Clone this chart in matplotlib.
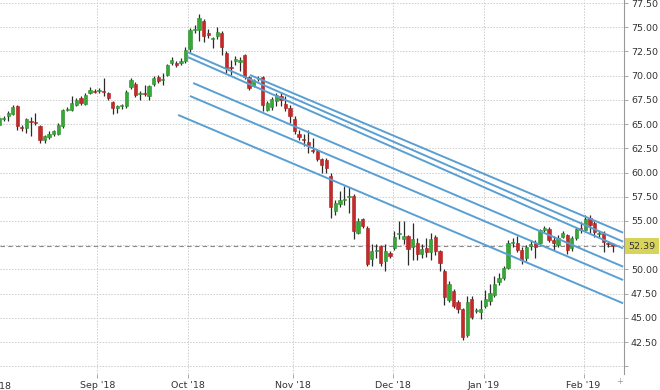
import matplotlib
matplotlib.use('Agg')
import matplotlib.pyplot as plt
import numpy as np

# daily candles (Aug '18 - Feb '19)
opens = [64.95, 65.5, 65.8, 66.0, 66.84, 64.7, 64.6, 65.35, 65.25, 64.8,
         63.35, 63.7, 63.95, 64.0, 64.8, 66.45, 66.5, 67.0, 67.7, 67.1,
         68.2, 68.45, 68.4, 68.45, 68.2, 67.3, 66.7, 66.85, 66.85, 68.85,
         69.1, 68.15, 68.2, 67.9, 69.1, 69.9, 69.5, 70.1, 71.3, 71.3,
         71.3, 71.5, 72.7, 74.7, 74.7, 75.6, 74.45, 73.75, 74.05, 74.4,
         72.35, 70.9, 71.5, 71.4, 72.15, 69.9, 68.9, 69.7, 69.85, 66.5,
         66.8, 67.35, 67.85, 67.1, 66.7, 65.5, 63.95, 63.5, 63.1, 62.35,
         62.2, 61.35, 61.3, 59.65, 56.0, 56.7, 57.2, 57.45, 57.6, 53.8,
         55.2, 54.3, 51.05, 51.85, 52.4, 50.9, 51.65, 52.25, 53.65, 53.1,
         53.45, 52.26, 52.75, 51.6, 52.25, 51.75, 53.3, 51.9, 49.85, 46.8,
         47.8, 46.6, 45.9, 43.2, 46.9, 45.7, 45.6, 46.2, 46.7, 47.4,
         48.7, 49.1, 50.15, 52.72, 52.72, 52.0, 51.2, 52.45, 52.7, 52.75,
         54.07, 54.17, 53.03, 52.52, 53.34, 53.55, 52.21, 53.24, 54.27, 54.07,
         55.3, 54.79, 53.7, 53.75, 52.7, 52.6]
highs = [65.9, 65.8, 66.3, 67.0, 67.0, 64.9, 65.6, 65.7, 66.15, 64.9,
         63.9, 64.3, 64.4, 65.1, 66.6, 66.8, 67.9, 67.7, 67.9, 68.2,
         68.8, 68.6, 68.7, 69.75, 68.3, 67.4, 67.0, 67.1, 68.5, 69.8,
         69.3, 68.4, 69.0, 69.0, 70.0, 70.1, 70.3, 71.2, 71.9, 71.5,
         71.8, 73.0, 74.9, 75.2, 76.4, 75.8, 74.8, 74.0, 75.0, 74.6,
         72.5, 71.6, 72.0, 71.9, 72.2, 70.0, 69.7, 70.0, 69.95, 67.4,
         67.8, 68.2, 68.3, 67.9, 67.0, 65.8, 64.4, 64.0, 64.4, 63.6,
         62.4, 61.5, 61.5, 59.9, 57.2, 58.1, 58.6, 58.5, 57.8, 55.3,
         55.3, 54.5, 52.6, 52.6, 52.5, 52.6, 51.9, 54.0, 55.0, 55.0,
         53.6, 54.8, 53.2, 52.6, 53.2, 53.8, 53.5, 52.0, 50.0, 48.8,
         48.0, 46.8, 46.0, 47.3, 47.3, 46.0, 46.8, 47.9, 48.5, 49.3,
         49.6, 50.4, 53.0, 53.2, 53.4, 52.3, 52.5, 53.0, 53.0, 54.2,
         54.5, 54.4, 53.4, 53.5, 54.0, 53.7, 53.4, 54.4, 54.9, 55.6,
         55.6, 55.0, 54.0, 54.0, 52.9, 52.7]
lows = [64.8, 65.3, 65.3, 65.9, 64.4, 64.3, 64.1, 63.8, 64.9, 63.0,
        63.0, 63.5, 63.8, 63.9, 64.6, 66.3, 66.4, 66.9, 67.0, 67.0,
        68.1, 68.2, 68.2, 67.9, 67.5, 66.0, 66.1, 66.6, 66.7, 68.6,
        67.8, 67.5, 67.9, 67.5, 68.9, 69.2, 69.0, 70.0, 71.1, 70.9,
        71.1, 71.3, 72.4, 74.4, 73.6, 73.5, 73.9, 72.9, 73.8, 72.15,
        70.3, 70.1, 71.1, 70.5, 69.7, 68.5, 68.8, 69.4, 66.3, 66.3,
        66.5, 66.9, 66.9, 66.3, 65.1, 64.0, 63.4, 62.7, 62.0, 62.0,
        61.2, 59.9, 59.9, 55.3, 55.6, 56.4, 56.6, 55.8, 53.1, 53.7,
        54.3, 50.3, 50.4, 51.2, 50.4, 49.8, 51.2, 52.0, 53.1, 52.6,
        50.5, 51.0, 51.0, 51.2, 51.3, 51.0, 51.5, 49.85, 46.3, 46.6,
        46.0, 45.5, 42.75, 43.0, 44.9, 45.5, 44.9, 46.0, 46.3, 47.1,
        48.4, 48.9, 50.0, 52.3, 51.8, 50.6, 50.9, 52.0, 51.2, 52.6,
        53.9, 52.8, 52.0, 52.3, 53.2, 51.6, 51.9, 53.0, 53.8, 53.9,
        53.8, 53.3, 53.3, 51.8, 52.3, 51.8]
closes = [65.64, 65.6, 66.15, 66.8, 64.78, 64.6, 65.5, 65.25, 65.1, 63.4,
          63.75, 64.0, 64.25, 64.95, 66.5, 66.55, 67.2, 67.5, 67.2, 68.0,
          68.55, 68.35, 68.5, 68.35, 67.7, 66.7, 66.85, 66.95, 68.35, 69.55,
          68.0, 68.25, 68.1, 68.9, 69.75, 69.4, 69.65, 71.1, 71.65, 71.05,
          71.55, 72.65, 74.7, 74.85, 76.0, 74.05, 74.2, 73.85, 74.55, 73.0,
          70.8, 70.8, 71.7, 71.6, 69.9, 68.7, 69.55, 69.8, 67.0, 67.2,
          67.6, 68.0, 67.5, 66.7, 65.8, 64.25, 63.7, 63.4, 62.8, 62.25,
          61.35, 60.8, 60.5, 56.4, 56.9, 57.2, 57.3, 57.55, 54.0, 55.0,
          54.5, 50.55, 51.9, 51.95, 50.7, 51.9, 51.4, 53.3, 53.75, 53.45,
          52.1, 53.1, 51.6, 52.1, 51.75, 53.1, 51.9, 50.7, 47.1, 48.5,
          46.25, 45.9, 43.0, 46.6, 45.1, 45.8, 45.9, 46.9, 47.6, 48.5,
          49.1, 50.15, 52.7, 52.85, 52.0, 51.0, 52.3, 52.6, 52.3, 54.05,
          54.27, 53.03, 52.72, 53.24, 53.75, 52.0, 53.24, 54.17, 54.07, 55.2,
          54.58, 53.86, 53.8, 52.82, 52.6, 52.39]

# first candle of each month (index into the series above)
month_first = [-1, 22, 42, 65, 87, 107, 129]
month_labels = ["Aug '18", "Sep '18", "Oct '18", "Nov '18", "Dec '18", "Jan '19", "Feb '19"]

# parallel channel lines: start index, start price, end price
chan_start = [55.2, 41.3, 41.3, 42.7, 42.0, 39.4]
chan_p0 = [70.07, 72.47, 71.96, 69.24, 67.90, 65.94]
chan_p1 = [53.79, 52.86, 52.17, 50.28, 48.90, 46.50]
chan_end = 137.3

last_price = 52.39

o = np.array(opens)
h = np.array(highs)
l = np.array(lows)
c = np.array(closes)
x = np.arange(len(o))
up = c >= o

fig = plt.figure(figsize=(6.6, 3.9), dpi=100)
ax = fig.add_axes([0, 16 / 390, 624 / 660, 374 / 390])

# wicks, then bodies
ax.vlines(x, l, h, color='#2b2b2b', lw=0.9, zorder=2)
body_col = np.where(up, '#35a935', '#c52a2a')
edge_col = np.where(up, '#2a8a2a', '#a81f1f')
ax.bar(x, np.maximum(np.abs(c - o), 0.08), bottom=np.minimum(o, c), width=0.72,
       color=body_col, edgecolor=edge_col, linewidth=0.4, zorder=2.5)

# channel
for xs, p0, p1 in zip(chan_start, chan_p0, chan_p1):
    ax.plot([xs, chan_end], [p0, p1], color='#5a9fd2', lw=1.4, zorder=3,
            solid_capstyle='butt')

# last price line + tag
ax.axhline(last_price, color='#8a8a8a', lw=0.8, ls=(0, (4, 3)), zorder=1.5)
ax.annotate(f'{last_price:.2f}', xy=(1, last_price), xycoords=('axes fraction', 'data'),
            xytext=(3, 0), textcoords='offset points', ha='left', va='center',
            fontsize=6.8, color='#333333', annotation_clip=False,
            bbox=dict(boxstyle='square,pad=0.35', fc='#d8d45a', ec='none'))

ax.set_xlim(0.2, 137.5)
ax.set_ylim(39.2, 77.81)

# 40 has no label, 52.50 sits under the price tag
yt = np.arange(40, 77.6, 2.5)
ax.set_yticks(yt)
ax.set_yticklabels(['' if (v < 42 or v == 52.5) else f'{v:.2f}' for v in yt])
ax.yaxis.tick_right()

xt = [m - 0.4 for m in month_first]
ax.set_xticks(xt[1:])
ax.set_xticklabels(month_labels[1:])
# Aug tick sits just left of the plot, only the tail of its label shows
ax.annotate(month_labels[0], xy=(xt[0], 0), xycoords=('data', 'axes fraction'),
            xytext=(0, -5.5), textcoords='offset points', ha='center', va='top',
            fontsize=6.8, color='#333333', annotation_clip=False)

ax.tick_params(axis='both', labelsize=6.8, colors='#333333', length=3, width=0.6, pad=2)
ax.tick_params(axis='both', color='#999999')
ax.grid(True, color='#cccccc', lw=0.7, ls=(0, (1.5, 1.5)), zorder=0)
ax.set_axisbelow(True)

for s in ['top', 'left', 'bottom']:
    ax.spines[s].set_visible(False)
ax.spines['right'].set_color('#999999')
ax.spines['right'].set_linewidth(0.8)

fig.text(620 / 660, 1 - 382 / 390, '+', fontsize=6, color='#999999', ha='center', va='center')

fig.savefig('out.png', dpi=100)
